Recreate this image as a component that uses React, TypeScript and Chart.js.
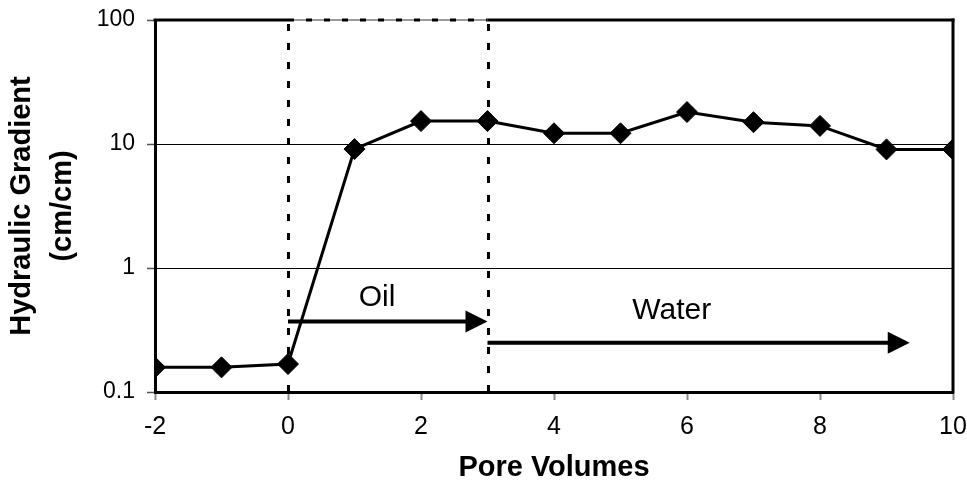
import React, { useEffect, useRef } from "react";
import { Chart, registerables } from "chart.js";

Chart.register(...registerables);

// ---- data ----
const poreVolumes = [-2, -1, 0, 1, 2, 3, 4, 5, 6, 7, 8, 9, 10];
const hydraulicGradient = [0.158, 0.158, 0.168, 9.1, 15.3, 15.3, 12.2, 12.2, 18.1, 15.0, 14.0, 9.05, 9.05];
const yTickValues = [0.1, 1, 10, 100];
const xMin = -2;
const xMax = 10;
const xStep = 2;
const yMin = 0.1;
const yMax = 100;
const phaseBoundaries = [0, 3];
const phaseArrows = [
  { from: 0, to: 3, y: 0.37 },
  { from: 3, to: 9.35, y: 0.25 },
];
const phaseLabels = [
  { text: "Oil", x: 1.34, y: 0.578 },
  { text: "Water", x: 5.77, y: 0.45 },
];
const xTitle = "Pore Volumes";
const yTitle = ["Hydraulic Gradient", "(cm/cm)"];

const FONT = '"Liberation Sans", Arial, sans-serif';

const overlayPlugin = {
  id: "overlay",
  beforeDatasetsDraw(chart: any) {
    const { ctx, chartArea, scales } = chart;
    const xs = scales.x;
    ctx.save();
    ctx.strokeStyle = "#000";
    ctx.lineWidth = 3;
    ctx.setLineDash([7, 12]);
    for (const b of phaseBoundaries) {
      const px = Math.round(xs.getPixelForValue(b)) + 0.5;
      ctx.beginPath();
      ctx.moveTo(px, chartArea.bottom);
      ctx.lineTo(px, chartArea.top);
      ctx.stroke();
    }
    ctx.restore();
  },
  afterDatasetsDraw(chart: any) {
    const { ctx, chartArea, scales } = chart;
    const xs = scales.x;
    const ys = scales.y;
    ctx.save();
    const b0 = xs.getPixelForValue(phaseBoundaries[0]);
    const b1 = xs.getPixelForValue(phaseBoundaries[1]);
    const top = chartArea.top;
    ctx.lineWidth = 3;
    ctx.strokeStyle = "#000";
    ctx.setLineDash([]);
    ctx.beginPath();
    ctx.moveTo(chartArea.left - 1.5, top);
    ctx.lineTo(b0, top);
    ctx.moveTo(b1, top);
    ctx.lineTo(chartArea.right + 1.5, top);
    ctx.stroke();
    ctx.strokeStyle = "#9a9a9a";
    ctx.lineWidth = 2;
    ctx.beginPath();
    ctx.moveTo(b0, top);
    ctx.lineTo(b1, top);
    ctx.stroke();
    ctx.strokeStyle = "#000";
    ctx.lineWidth = 3;
    ctx.setLineDash([6, 12]);
    ctx.beginPath();
    ctx.moveTo(b0, top);
    ctx.lineTo(b1, top);
    ctx.stroke();
    ctx.setLineDash([]);
    ctx.beginPath();
    ctx.moveTo(chartArea.right, chartArea.top - 1.5);
    ctx.lineTo(chartArea.right, chartArea.bottom + 1.5);
    ctx.stroke();

    ctx.fillStyle = "#000";
    ctx.strokeStyle = "#000";
    const headLen = 22;
    const headHalf = 11;
    for (const a of phaseArrows) {
      const x1 = xs.getPixelForValue(a.from);
      const x2 = xs.getPixelForValue(a.to);
      const y = ys.getPixelForValue(a.y);
      ctx.lineWidth = 4;
      ctx.beginPath();
      ctx.moveTo(x1, y);
      ctx.lineTo(x2 - headLen + 1, y);
      ctx.stroke();
      ctx.beginPath();
      ctx.moveTo(x2, y);
      ctx.lineTo(x2 - headLen, y - headHalf);
      ctx.lineTo(x2 - headLen, y + headHalf);
      ctx.closePath();
      ctx.fill();
    }

    ctx.font = `30px ${FONT}`;
    ctx.textAlign = "center";
    ctx.textBaseline = "middle";
    for (const l of phaseLabels) {
      ctx.fillText(l.text, xs.getPixelForValue(l.x), ys.getPixelForValue(l.y));
    }
    ctx.restore();
  },
};

export default function App() {
  const canvasRef = useRef<HTMLCanvasElement | null>(null);

  useEffect(() => {
    if (!canvasRef.current) return;
    Chart.defaults.font.family = FONT;
    Chart.defaults.color = "#000";
    const chart = new Chart(canvasRef.current, {
      type: "line",
      data: {
        datasets: [
          {
            data: poreVolumes.map((x, i) => ({ x, y: hydraulicGradient[i] })),
            borderColor: "#000",
            backgroundColor: "#000",
            borderWidth: 3,
            pointStyle: "rectRot",
            pointRadius: 10.5,
            pointBorderWidth: 1,
            pointBackgroundColor: "#000",
            pointBorderColor: "#000",
            tension: 0,
          },
        ],
      },
      options: {
        animation: false,
        responsive: true,
        maintainAspectRatio: false,
        events: [],
        layout: { padding: 0 },
        plugins: {
          legend: { display: false },
          tooltip: { enabled: false },
        },
        scales: {
          x: {
            type: "linear",
            min: xMin,
            max: xMax,
            afterFit: (s: any) => {
              s.height = 90;
              s.paddingLeft = 0;
              s.paddingRight = 14;
            },
            ticks: {
              stepSize: xStep,
              padding: 12,
              font: { size: 25 },
              color: "#000",
              callback: (v: any) => String(v),
            },
            grid: {
              drawOnChartArea: false,
              tickLength: 8,
              tickColor: "#888",
              tickWidth: 2,
            },
            border: { display: true, color: "#000", width: 3 },
            title: {
              display: true,
              text: xTitle,
              font: { size: 29, weight: "bold", lineHeight: 1 },
              padding: { top: 0, bottom: 0 },
              color: "#000",
            },
          },
          y: {
            type: "logarithmic",
            min: yMin,
            max: yMax,
            afterFit: (s: any) => {
              s.width = 155;
              s.paddingTop = 20;
              s.paddingBottom = 0;
            },
            afterBuildTicks: (s: any) => {
              s.ticks = yTickValues.map((v) => ({ value: v }));
            },
            ticks: {
              padding: 12,
              font: { size: 23 },
              color: "#000",
              callback: (v: any) => String(v),
            },
            grid: {
              color: "#000",
              lineWidth: 1,
              tickLength: 8,
              tickColor: "#555",
              tickWidth: 1.5,
            },
            border: { display: true, color: "#000", width: 3 },
            title: {
              display: true,
              text: yTitle,
              font: { size: 29, weight: "bold", lineHeight: 1.4 },
              padding: { top: 2, bottom: 0 },
              color: "#000",
            },
          },
        },
      },
      plugins: [overlayPlugin],
    } as any);
    return () => chart.destroy();
  }, []);

  return (
    <div style={{ position: "fixed", left: 0, top: 0, width: 967, height: 482, background: "#fff" }}>
      <canvas ref={canvasRef} />
    </div>
  );
}
